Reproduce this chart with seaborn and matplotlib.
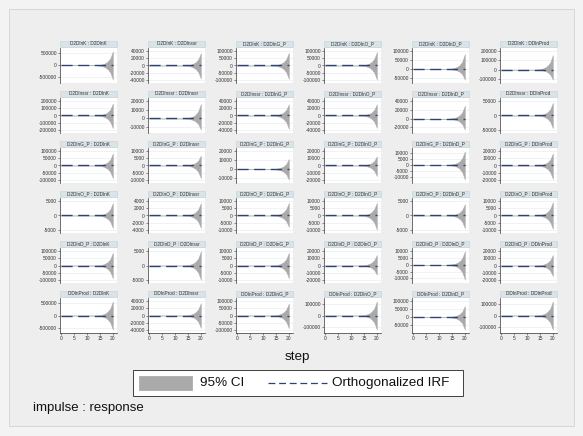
import numpy as np
import pandas as pd
import matplotlib
matplotlib.use("Agg")
import matplotlib.pyplot as plt
import seaborn as sns
from matplotlib.patches import Rectangle
from matplotlib.lines import Line2D

# ---------------- data ----------------
variables = ["D2DlnK", "D2Dlnssr", "D2DlnG_P", "D2DlnO_P", "D2DlnD_P", "DDlnProd"]
steps = [0, 1, 2, 3, 4, 5, 6, 7, 8, 9, 10, 11, 12, 13, 14, 15, 16, 17, 18, 19, 20]
irf = [0, 0, 0, 0, 0, 0, 0, 0, 0, 0, 0, 0, 0, 0, 0, 0, 0, 0, 0, 0, 0]
# relative width of the 95% CI along the steps
band_shape = [0, 0, 0, 0, 0, 0, 0, 0, 0, 0, 0, 0, 0.003, 0.007, 0.015,
              0.035, 0.07, 0.14, 0.27, 0.5, 1.0]
# CI upper / lower bound at step 20 per panel (rows = impulse, cols = response)
band_upper = [
    [580000, 35000, 90000, 95000, 85000, 160000],
    [170000, 17000, 32000, 32000, 30000, 45000],
    [85000, 7000, 11500, 13000, 11000, 17000],
    [4400, 3500, 9000, 9000, 4000, 9500],
    [90000, 5000, 9000, 15000, 10000, 15000],
    [550000, 35000, 85000, 120000, 70000, 120000],
]
band_lower = [
    [-600000, -37000, -95000, -100000, -60000, -110000],
    [-180000, -13000, -38000, -35000, -25000, -45000],
    [-90000, -9000, -12000, -15000, -12000, -19000],
    [-4400, -3500, -8000, -10000, -4500, -9500],
    [-90000, -5000, -9000, -13000, -11000, -15000],
    [-550000, -35000, -90000, -120000, -80000, -120000],
]
yticks = [
    [[500000, 0, -500000], [40000, 20000, 0, -20000, -40000],
     [100000, 50000, 0, -50000, -100000], [100000, 50000, 0, -50000, -100000],
     [100000, 50000, 0, -50000], [200000, 100000, 0, -100000]],
    [[200000, 100000, 0, -100000, -200000], [20000, 10000, 0, -10000],
     [40000, 20000, 0, -20000, -40000], [40000, 20000, 0, -20000, -40000],
     [40000, 20000, 0, -20000], [50000, 0, -50000]],
    [[100000, 50000, 0, -50000, -100000], [10000, 5000, 0, -5000, -10000],
     [20000, 10000, 0, -10000], [20000, 10000, 0, -10000, -20000],
     [10000, 5000, 0, -5000, -10000], [20000, 10000, 0, -10000, -20000]],
    [[5000, 0, -5000], [4000, 2000, 0, -2000, -4000],
     [10000, 5000, 0, -5000, -10000], [10000, 5000, 0, -5000, -10000],
     [5000, 0, -5000], [10000, 5000, 0, -5000, -10000]],
    [[100000, 50000, 0, -50000, -100000], [5000, 0, -5000],
     [10000, 5000, 0, -5000, -10000], [20000, 10000, 0, -10000, -20000],
     [10000, 5000, 0, -5000, -10000], [20000, 10000, 0, -10000, -20000]],
    [[500000, 0, -500000], [40000, 20000, 0, -20000, -40000],
     [100000, 50000, 0, -50000, -100000], [100000, 0, -100000],
     [100000, 50000, 0, -50000], [100000, 0, -100000]],
]
xticks = [0, 5, 10, 15, 20]

# ---------------- styling ----------------
sns.set_theme(style="white")
plt.rcParams["font.family"] = ["Liberation Sans", "DejaVu Sans"]

W, H = 583, 436
fig = plt.figure(figsize=(W / 100, H / 100), dpi=100)
fig.patch.set_facecolor("#f3f3f3")
fig.patches.append(Rectangle((9 / W, 1 - 426 / H), 565 / W, 417 / H,
                             transform=fig.transFigure, facecolor="#eeeeee",
                             edgecolor="#d2d2d2", linewidth=0.6, zorder=-5))

ci_color = "#aaaaaa"
line_color = "#2c4472"
grid_color = "#e8eff1"
title_face = "#dae3e8"
title_edge = "#c3d0d8"

col_left = [60, 148, 236, 324, 412, 500]
row_top = [48, 98, 148, 198, 248, 298]
pw, ph = 57, 35

def fmt(v):
    return str(int(v))

for r in range(6):
    for c in range(6):
        ax = fig.add_axes([col_left[c] / W, 1 - (row_top[r] + ph) / H, pw / W, ph / H])
        ax.set_zorder(2)
        ax.set_facecolor("white")
        up = [band_upper[r][c] * s for s in band_shape]
        lo = [band_lower[r][c] * s for s in band_shape]
        df = pd.DataFrame({"step": steps, "irf": irf, "upper": up, "lower": lo})
        ax.fill_between(df["step"], df["lower"], df["upper"], color=ci_color,
                        linewidth=0.3, edgecolor=ci_color, zorder=2)
        sns.lineplot(data=df, x="step", y="irf", ax=ax, color=line_color,
                     linewidth=1.0, zorder=3)
        ax.lines[-1].set_dashes([8.0, 4.0])
        tk = yticks[r][c]
        hi = max(band_upper[r][c], max(tk))
        lw = min(band_lower[r][c], min(tk))
        pad = 0.12 * (hi - lw)
        ax.set_ylim(lw - pad, hi + pad)
        ax.set_xlim(-0.4, 21.6)
        ax.set_yticks(tk)
        ax.set_yticklabels([fmt(v) for v in tk], fontsize=3.5, color="#333333")
        for v in tk:
            ax.axhline(v, color=grid_color, linewidth=0.5, zorder=1)
        ax.set_xlabel("")
        ax.set_ylabel("")
        for s in ["top", "right"]:
            ax.spines[s].set_visible(False)
        ax.spines["left"].set_color("#333333")
        ax.spines["left"].set_linewidth(0.5)
        ax.tick_params(axis="y", length=1.5, width=0.4, pad=0.8, colors="#333333", left=True)
        if r == 5:
            ax.set_xticks(xticks)
            ax.set_xticklabels([str(v) for v in xticks], fontsize=3.5, color="#333333")
            ax.spines["bottom"].set_color("#333333")
            ax.spines["bottom"].set_linewidth(0.5)
            ax.tick_params(axis="x", length=1.5, width=0.4, pad=0.8, colors="#333333",
                           bottom=True)
        else:
            ax.set_xticks([])
            ax.spines["bottom"].set_visible(False)
        ax.grid(False)
        # panel title box
        ax.add_patch(Rectangle((0, 1.03), 1, 0.17, transform=ax.transAxes,
                               facecolor=title_face, edgecolor=title_edge,
                               linewidth=0.4, clip_on=False, zorder=5))
        ax.text(0.5, 1.115, f"{variables[r]} : {variables[c]}", transform=ax.transAxes,
                ha="center", va="center", fontsize=3.4, color="#333333",
                clip_on=False, zorder=6)

# x label
fig.text(297 / W, 1 - 357 / H, "step", ha="center", va="center", fontsize=9.7, color="#111111")

# legend (manual, Stata style)
fig.patches.append(Rectangle((133 / W, 1 - 396 / H), 330 / W, 26 / H,
                             transform=fig.transFigure, facecolor="white",
                             edgecolor="#222222", linewidth=0.6, zorder=3))
fig.patches.append(Rectangle((139 / W, 1 - 390 / H), 53 / W, 14 / H,
                             transform=fig.transFigure, facecolor=ci_color,
                             edgecolor="#999999", linewidth=0.4, zorder=4))
fig.text(200 / W, 1 - 383 / H, "95% CI", ha="left", va="center", fontsize=9.7, color="#111111")
fig.lines.append(Line2D([268 / W, 327 / W], [1 - 383 / H, 1 - 383 / H],
                        transform=fig.transFigure, color=line_color,
                        linewidth=0.9, dashes=[5.5, 3.0], zorder=4))
fig.text(332 / W, 1 - 383 / H, "Orthogonalized IRF", ha="left", va="center",
         fontsize=9.7, color="#111111")

fig.text(33 / W, 1 - 408 / H, "impulse : response", ha="left", va="center",
         fontsize=9.5, color="#111111")

fig.savefig("out.png", dpi=100, facecolor=fig.get_facecolor())
